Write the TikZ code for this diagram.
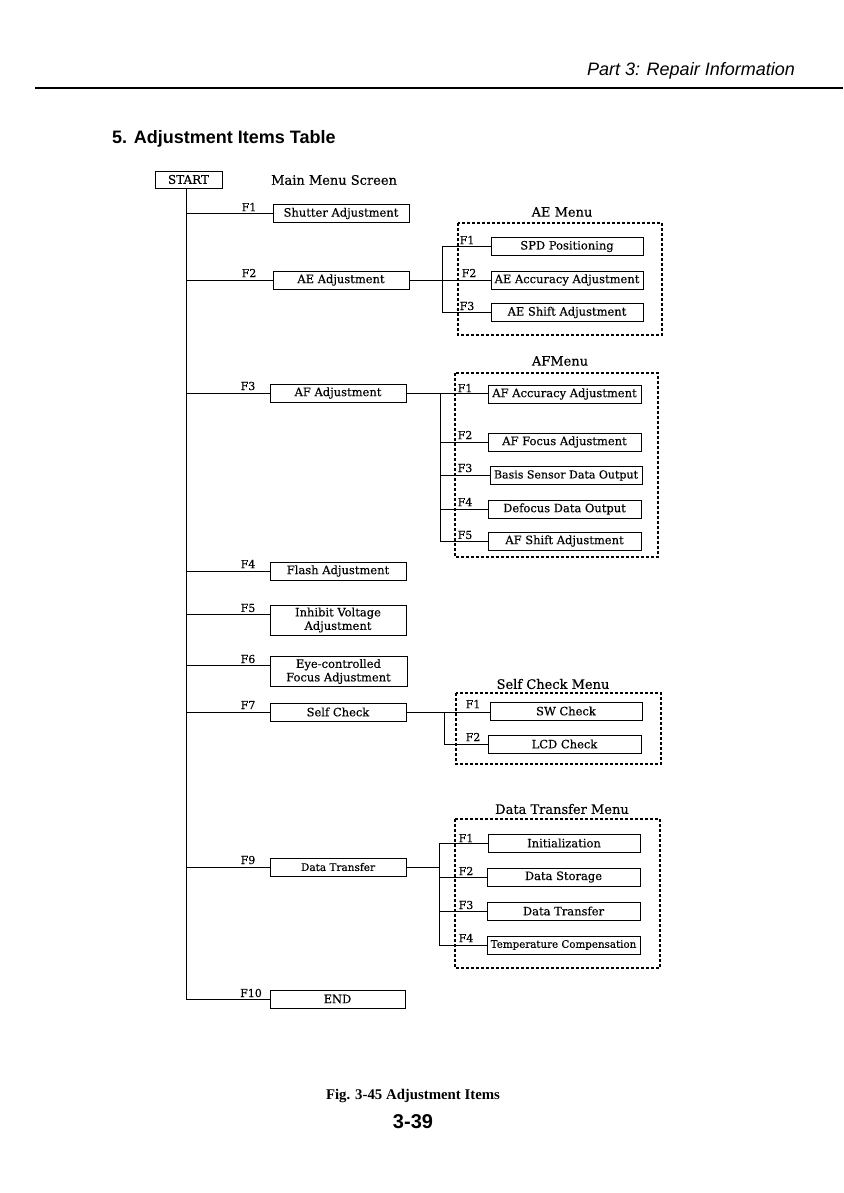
\documentclass[tikz,border=0pt]{standalone}
\usepackage{fontspec}
\setmainfont{DejaVu Serif}[FakeBold=0.35]
\newfontfamily\hdrfont{Liberation Sans}
\newfontfamily\capfont{Liberation Serif}
\begin{document}
\begin{tikzpicture}[x=1pt,y=-1pt,
  box/.style={draw,line width=0.9pt,minimum height=18pt,inner sep=0pt,font=\fontsize{11.5}{13}\selectfont},
  mbox/.style={box,minimum width=136pt},
  sbox/.style={box,minimum width=152pt},
  tbox/.style={box,minimum width=136pt,minimum height=30pt,align=center,font=\fontsize{11.5}{13.5}\selectfont},
  fl/.style={font=\fontsize{11}{12}\selectfont,inner sep=0pt},
  ttl/.style={font=\fontsize{13}{15}\selectfont,inner sep=0pt},
  wire/.style={line width=0.8pt},
  menubox/.style={draw,line width=1.1pt,dash pattern=on 3pt off 2pt}]
\useasboundingbox (0,0) rectangle (843,1193);
% header
\node[anchor=base east,inner sep=0pt,font=\hdrfont\itshape\fontsize{18}{20}\selectfont] (hdr) at (795,76) {Part 3: Repair Information};
\draw[line width=2pt] (35,88) -- (843,88);
\node[anchor=base west,inner sep=0pt,font=\hdrfont\bfseries\fontsize{18}{20}\selectfont] (title) at (112,144) {5. Adjustment Items Table};
% start
\node[box,minimum width=67pt,minimum height=17pt,font=\fontsize{12}{13}\selectfont] (start) at (188.5,179.5) {START};
\node[ttl,anchor=west] (mms) at (271,180) {Main Menu Screen};
\coordinate (trunk) at (186,188);
% main items
\node[mbox] (shutter) at (341,213.5) {Shutter Adjustment};
\node[mbox] (aeadj) at (341,280) {AE Adjustment};
\node[mbox] (afadj) at (338,393) {AF Adjustment};
\node[mbox] (flash) at (338,571) {Flash Adjustment};
\node[tbox] (inhibit) at (338,620) {Inhibit Voltage\\Adjustment};
\node[tbox,minimum width=137pt] (eye) at (338.5,671.5) {Eye-controlled\\Focus Adjustment};
\node[mbox] (selfc) at (338,712) {Self Check};
\node[mbox,font=\fontsize{10.5}{12}\selectfont] (dtr) at (338,867) {Data Transfer};
\node[mbox,minimum width=135pt] (endb) at (337.5,999) {END};
\node[fl] (l1) at (249,207) {F1};
\node[fl] (l2) at (249,273) {F2};
\node[fl] (l3) at (248,386) {F3};
\node[fl] (l4) at (248,564) {F4};
\node[fl] (l5) at (248,608) {F5};
\node[fl] (l6) at (248,659) {F6};
\node[fl] (l7) at (248,705) {F7};
\node[fl] (l9) at (248,860) {F9};
\node[fl] (l10) at (251,993) {F10};
\coordinate (trunkend) at (186,999);
\draw[wire] (trunk) -- (trunkend) -- (endb.west);
\foreach \b in {shutter,aeadj,afadj,flash,selfc,dtr}{
  \draw[wire] (\b.west) -- (\b.west -| trunk);}
\draw[wire] (inhibit.west |- 0,614) -- (trunk |- 0,614);
\draw[wire] (eye.west |- 0,665) -- (trunk |- 0,665);
% AE menu
\node[ttl] (aettl) at (562,212) {AE Menu};
\draw[menubox] (458,223) rectangle (662,335);
\node[sbox] (spd) at (567,246.5) {SPD Positioning};
\node[sbox] (aeacc) at (567,280) {AE Accuracy Adjustment};
\node[sbox] (aeshift) at (567,312.5) {AE Shift Adjustment};
\coordinate (aebus) at (442,0);
\draw[wire] (aeadj.east) -- (aeacc.west);
\draw[wire] (spd.west) -- (spd.west -| aebus) -- (aeshift.west -| aebus) -- (aeshift.west);
\node[fl] (ae1) at (467,240) {F1};
\node[fl] (ae2) at (469,273) {F2};
\node[fl] (ae3) at (467,306) {F3};
% AF menu
\node[ttl] (afttl) at (560,361) {AFMenu};
\draw[menubox] (455,373) rectangle (658,557);
\node[sbox,minimum width=153pt] (afacc) at (564.5,394) {AF Accuracy Adjustment};
\node[sbox,minimum width=153pt] (affoc) at (564.5,442) {AF Focus Adjustment};
\node[sbox,font=\fontsize{11}{13}\selectfont] (basis) at (566,475.5) {Basis Sensor Data Output};
\node[sbox,minimum width=153pt] (defoc) at (564.5,509) {Defocus Data Output};
\node[sbox,minimum width=153pt] (afshift) at (564.5,541) {AF Shift Adjustment};
\coordinate (afbus) at (440,0);
\draw[wire] (afadj.east) -- (afacc.west |- afadj.east);
\draw[wire] (afadj.east -| afbus) -- (afshift.west -| afbus) -- (afshift.west);
\foreach \b in {affoc,basis,defoc}{\draw[wire] (\b.west) -- (\b.west -| afbus);}
\node[fl] (af1) at (465,388) {F1};
\node[fl] (af2) at (465,435) {F2};
\node[fl] (af3) at (465,468) {F3};
\node[fl] (af4) at (465,502) {F4};
\node[fl] (af5) at (465,535) {F5};
% Self check menu
\node[ttl] (scttl) at (553,684) {Self Check Menu};
\draw[menubox] (456,693) rectangle (661,764);
\node[sbox] (sw) at (566,711) {SW Check};
\node[sbox,minimum width=153pt] (lcd) at (564.5,744) {LCD Check};
\coordinate (scbus) at (444,0);
\draw[wire] (selfc.east) -- (sw.west |- selfc.east);
\draw[wire] (selfc.east -| scbus) -- (lcd.west -| scbus) -- (lcd.west);
\node[fl] (sc1) at (473,704) {F1};
\node[fl] (sc2) at (473,737) {F2};
% Data transfer menu
\node[ttl] (dtttl) at (562,809) {Data Transfer Menu};
\draw[menubox] (455,819) rectangle (660,968);
\node[sbox] (init) at (564,843) {Initialization};
\node[sbox,minimum width=153pt] (dstor) at (563.5,877) {Data Storage};
\node[sbox,minimum width=153pt] (dtran) at (563.5,911) {Data Transfer};
\node[sbox,minimum width=153pt,font=\fontsize{10.3}{12}\selectfont] (temp) at (563.5,945) {Temperature Compensation};
\coordinate (dtbus) at (439,0);
\draw[wire] (dtr.east) -- (dtr.east -| dtbus);
\draw[wire] (init.west) -- (init.west -| dtbus) -- (temp.west -| dtbus) -- (temp.west);
\foreach \b in {dstor,dtran}{\draw[wire] (\b.west) -- (\b.west -| dtbus);}
\node[fl] (dt1) at (466,838) {F1};
\node[fl] (dt2) at (466,871) {F2};
\node[fl] (dt3) at (466,905) {F3};
\node[fl] (dt4) at (466,938) {F4};
% caption
\node[font=\capfont\bfseries\fontsize{14.8}{17}\selectfont,inner sep=0pt] (cap) at (413,1096) {Fig. 3-45 Adjustment Items};
\node[font=\hdrfont\bfseries\fontsize{20}{22}\selectfont,inner sep=0pt] (pg) at (413,1122) {3-39};
\end{tikzpicture}
\end{document}
